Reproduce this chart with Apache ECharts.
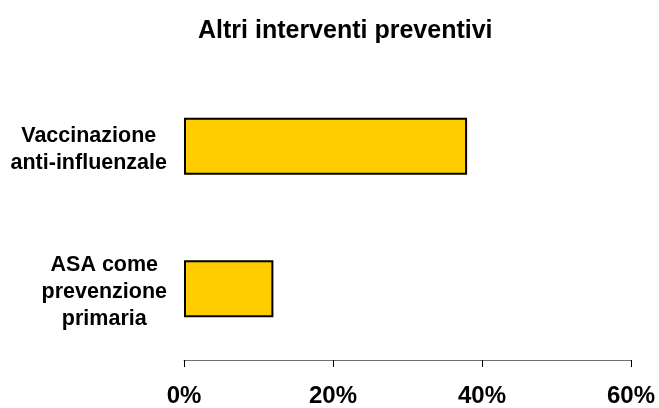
<!DOCTYPE html>
<html>
<head>
<meta charset="utf-8">
<script src="https://cdn.jsdelivr.net/npm/echarts@6/dist/echarts.min.js"></script>
<style>
html,body{margin:0;padding:0;background:#fff;}
#c{width:659px;height:408px;}
</style>
</head>
<body>
<div id="c"></div>
<script>
const titleText = 'Altri interventi preventivi';
const categories = ['Vaccinazione\nanti-influenzale', 'ASA come\nprevenzione\nprimaria'];
const values = [38, 12];
const xTicks = { min: 0, max: 60, interval: 20 };

const FONT = '"Liberation Sans", Arial, sans-serif';
const chart = echarts.init(document.getElementById('c'), null, { renderer: 'canvas' });
chart.setOption({
  animation: false,
  backgroundColor: '#ffffff',
  title: {
    text: titleText,
    left: 193,
    top: 14,
    textStyle: { fontFamily: FONT, fontWeight: 'bold', fontSize: 25, color: '#000' }
  },
  grid: { left: 184, right: 28, top: 75, bottom: 46, containLabel: false },
  xAxis: {
    type: 'value',
    min: xTicks.min,
    max: xTicks.max,
    interval: xTicks.interval,
    axisLine: { show: true, lineStyle: { color: '#707070', width: 1 } },
    axisTick: { show: true, length: 7, lineStyle: { color: '#000', width: 1 } },
    splitLine: { show: false },
    axisLabel: {
      formatter: '{value}%',
      margin: 24,
      fontFamily: FONT, fontWeight: 'bold', fontSize: 24, color: '#000'
    }
  },
  yAxis: {
    type: 'category',
    data: categories,
    inverse: true,
    axisLine: { show: false },
    axisTick: { show: false },
    splitLine: { show: false },
    axisLabel: {
      margin: 17,
      align: 'right',
      padding: [6, 0, 0, 0],
      formatter: v => '{c|' + v + '}',
      rich: {
        c: { align: 'center', fontFamily: FONT, fontWeight: 'bold', fontSize: 21.5, lineHeight: 27, color: '#000' }
      }
    }
  },
  series: [{
    type: 'bar',
    data: values,
    barWidth: 57,
    itemStyle: { color: '#FFCC00', borderColor: '#000', borderWidth: 2 }
  }]
});
</script>
</body>
</html>
